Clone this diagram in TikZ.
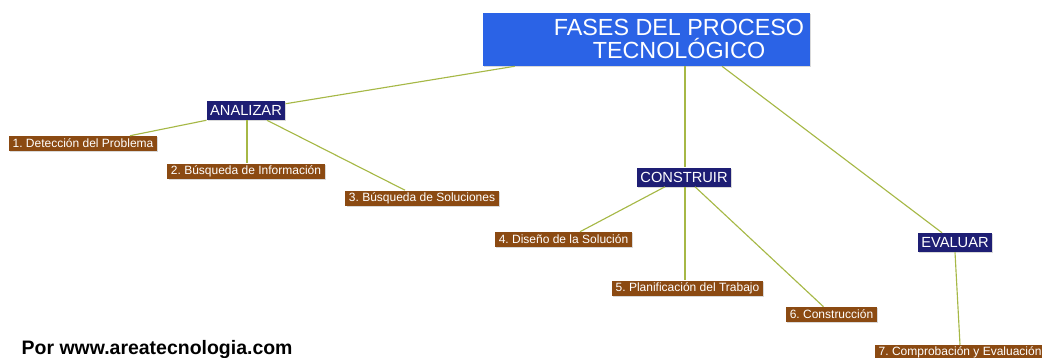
\documentclass[tikz,border=0pt]{standalone}
\usepackage{fontspec}
\setmainfont{Liberation Sans}
\usepackage{tikz}
\usetikzlibrary{calc,shadows}
\frenchspacing

\definecolor{azulfase}{HTML}{2B63E6}
\definecolor{azulosc}{HTML}{1E1E74}
\definecolor{marron}{HTML}{8B4A12}
\definecolor{verderama}{HTML}{A6B846}

\tikzset{
  sombra/.style={drop shadow={shadow xshift=0.8pt,shadow yshift=-0.8pt,opacity=0.3}},
  fase/.style={sombra,fill=azulosc,text=white,font=\fontsize{11pt}{12pt}\selectfont,
    inner xsep=2.6pt,inner ysep=0pt,minimum height=14.25pt},
  paso/.style={sombra,fill=marron,text=white,font=\fontsize{9pt}{10pt}\selectfont,
    inner xsep=2.6pt,inner ysep=0pt,minimum height=11.25pt},
  rama/.style={draw=verderama,line width=0.85pt}
}

\begin{document}
\begin{tikzpicture}[x=0.75pt,y=-0.75pt]
\clip (0,0) rectangle (1042,357);
% titulo
\node[sombra,fill=azulfase,minimum width=245.25pt,minimum height=39.75pt] (titulo) at (646.5,39.5) {};
\node[text=white,align=center,font=\fontsize{17.5pt}{17pt}\selectfont] (titulotxt) at (679,39) {FASES DEL PROCESO\\TECNOLÓGICO};
% fases
\node[fase] (analizar) at (246,110.5) {ANALIZAR};
\node[fase] (construir) at (684,177) {CONSTRUIR};
\node[fase] (evaluar) at (955,242.5) {EVALUAR};
% pasos
\node[paso] (p1) at (83,143.5) {1. Detección del Problema};
\node[paso] (p2) at (246,171) {2. Búsqueda de Información};
\node[paso] (p3) at (422,198) {3. Búsqueda de Soluciones};
\node[paso] (p4) at (563.5,239.5) {4. Diseño de la Solución};
\node[paso] (p5) at (687.5,288) {5. Planificación del Trabajo};
\node[paso] (p6) at (831.5,314.5) {6. Construcción};
\node[paso,anchor=west] (p7) at (875,352.5) {7. Comprobación y Evaluación};
\node[anchor=base west,font=\bfseries\fontsize{14.6pt}{16pt}\selectfont] (autor) at (17,354) {Por www.areatecnologia.com};
% ramas
\draw[rama] ($(titulo.south west)+(32,0)$) -- ($(analizar.north east)+(0,3)$);
\draw[rama] ($(titulo.south)+(38.5,0)$) -- ($(construir.north)+(1,0)$);
\draw[rama] ($(titulo.south)+(75.5,0)$) -- ($(evaluar.north)+(-13,0)$);
\draw[rama] (analizar.south west) -- ($(p1.north)+(47,0)$);
\draw[rama] ($(analizar.south)+(1,0)$) -- ($(p2.north)+(1,0)$);
\draw[rama] ($(analizar.south)+(21,0)$) -- ($(p3.north)+(-17,0)$);
\draw[rama] ($(construir.south)+(-19,0)$) -- ($(p4.north)+(16.5,0)$);
\draw[rama] ($(construir.south)+(1,0)$) -- ($(p5.north)+(-2.5,0)$);
\draw[rama] ($(construir.south)+(11,0)$) -- ($(p6.north)+(-8,0)$);
\draw[rama] (evaluar.south) -- ($(p7.north west)+(85,0)$);
\end{tikzpicture}
\end{document}
